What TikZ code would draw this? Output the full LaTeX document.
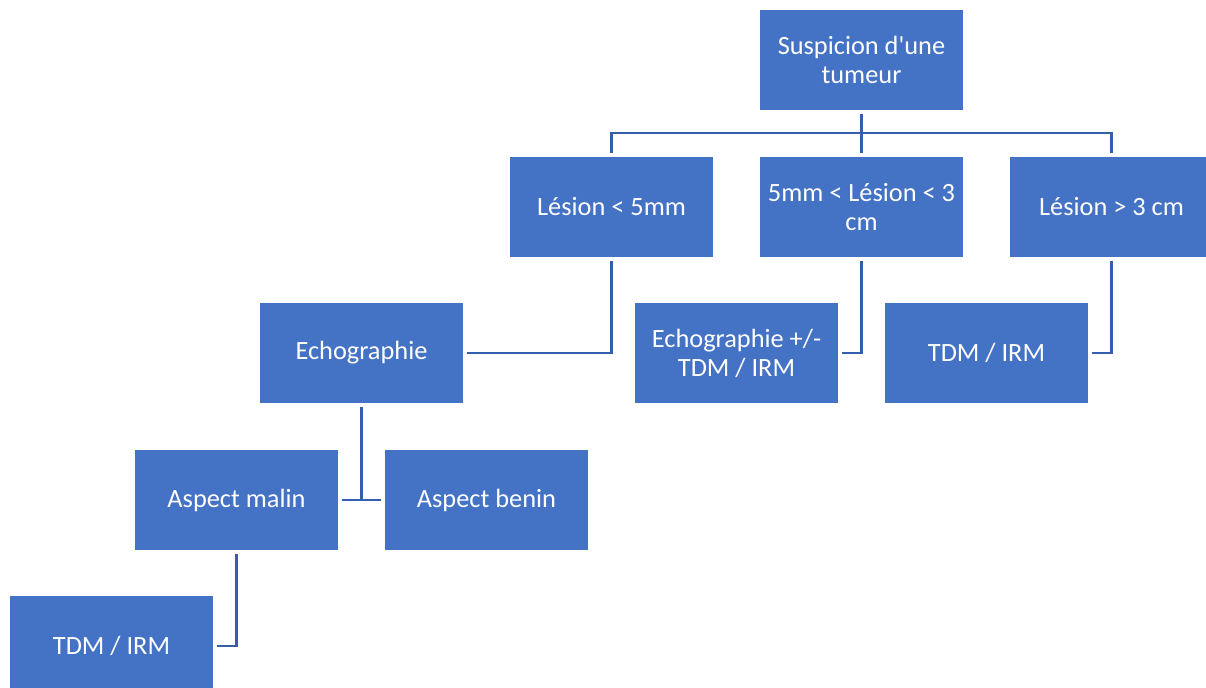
\documentclass[tikz,border=0pt]{standalone}
\usepackage{fontspec}
\setmainfont{Carlito}
\definecolor{boxblue}{HTML}{4472C4}
\definecolor{lineblue}{HTML}{3360AC}
\tikzset{
  box/.style={rectangle, fill=boxblue, text=white, minimum width=4.06cm, minimum height=2cm,
    align=center, inner sep=0pt, font=\fontsize{15}{16.5}\selectfont},
  link/.style={draw=lineblue, line width=1.4pt},
  gap/.style={shorten <=0.8mm, shorten >=0.8mm}
}
\begin{document}
\begin{tikzpicture}[x=0.02cm, y=-0.02cm]
   % frame of the picture (pixel units, y downwards)
   \useasboundingbox (0,0) rectangle (1206,688);
   \begin{scope}
     \clip (0,0) rectangle (1206,688);
     % --- top: suspicion ---
     \node[box] (root) at (861.5,60) {Suspicion d\textquotesingle une\\tumeur};
     % --- size of the lesion ---
     \node[box] (les5) at (611.5,207) {Lésion < 5mm};
     \node[box] (lesmid) at (861.5,207) {5mm < Lésion < 3\\cm};
     \node[box] (les3) at (1111.5,207) {Lésion > 3 cm};
     % --- imaging ---
     \node[box] (echo) at (361.5,353) {Echographie};
     \node[box] (echotdm) at (736.5,353) {Echographie +/-\\TDM / IRM};
     \node[box] (tdm3) at (986.5,353) {TDM / IRM};
     % --- aspect ---
     \node[box] (malin) at (236.5,500) {Aspect malin};
     \node[box] (benin) at (486.5,500) {Aspect benin};
     \node[box] (tdm1) at (111.5,646) {TDM / IRM};
     % bus under the root
     \coordinate (bus) at (861.5,133);
     \draw[link, shorten <=0.8mm] (root.south) -- (bus);
     \draw[link, gap] (les5.north) |- (bus) -| (les3.north);
     \draw[link, shorten >=0.8mm] (bus) -- (lesmid.north);
     % elbows to the imaging boxes
     \draw[link, gap] (les5.south) |- (echo.east);
     \draw[link, gap] (lesmid.south) |- (echotdm.east);
     \draw[link, gap] (les3.south) |- (tdm3.east);
     % echographie splits in two
     \draw[link, shorten <=0.8mm] (echo.south) -- (echo.south |- malin.east);
     \draw[link, gap] (malin.east) -- (benin.west);
     \draw[link, gap] (malin.south) |- (tdm1.east);
   \end{scope}
\end{tikzpicture}
\end{document}
